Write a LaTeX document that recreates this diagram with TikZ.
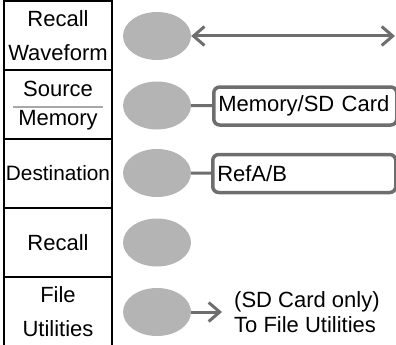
\documentclass[tikz,border=0pt]{standalone}
\usepackage{fontspec}
\setmainfont{Liberation Sans}
\usepackage{tikz}
\usetikzlibrary{arrows.meta,positioning,calc,shapes.geometric}
\definecolor{keyfill}{HTML}{B4B4B4}
\definecolor{linegray}{HTML}{6E6E6E}
\definecolor{rulegray}{HTML}{A8A8A8}
\tikzset{
  menucell/.style={rectangle,draw=black,line width=1.6pt,align=center,
    minimum width=108.5pt,minimum height=69pt,inner sep=0pt,
    font=\fontsize{22}{34}\selectfont},
  menutext/.style={inner sep=0pt,font=\fontsize{22}{34}\selectfont},
  softkey/.style={ellipse,fill=keyfill,minimum width=68pt,minimum height=48pt,inner sep=0pt},
  optbox/.style={rectangle,rounded corners=6pt,draw=linegray,line width=3.5pt,
    minimum width=183pt,minimum height=38pt,text width=174pt,align=left,
    inner xsep=4.5pt,font=\fontsize{22}{24}\selectfont},
  notetext/.style={align=left,inner xsep=12pt,inner ysep=0pt,
    font=\fontsize{22}{25}\selectfont},
  keyline/.style={line width=3pt,color=linegray},
  keyarr/.style={line width=3pt,color=linegray,
    arrows={-Straight Barb[length=11pt,width=19pt]}},
  divider/.style={line width=1.3pt,color=rulegray},
}
\begin{document}
\begin{tikzpicture}[x=1pt,y=-1pt]
  \useasboundingbox (0,0) rectangle (396,345);

  % menu column
  \node[menucell] (cellA) at (58,35.7) {Recall\\Waveform};
  \node[menucell] (cellB) at (58,104.5) {};
  \node[menucell,font=\fontsize{20.8}{34}\selectfont] (cellC) at (58,173.5) {Destination};
  \node[menucell] (cellD) at (58,242.5) {Recall};
  \node[menucell] (cellE) at (58,311.5) {File\\Utilities};
  \node[menutext] (src) at (58,89) {Source};
  \node[menutext] (mem) at (58,120) {Memory};
  \draw[divider] ($(cellB.center)+(-45,2.5)$) -- ($(cellB.center)+(45,2.5)$);

  % soft keys
  \node[softkey] (keyA) at (157,36) {};
  \node[softkey] (keyB) at (157,105.5) {};
  \node[softkey] (keyC) at (157,173) {};
  \node[softkey] (keyD) at (157,242.5) {};
  \node[softkey] (keyE) at (157,312) {};

  % options
  \coordinate (endA) at (395,36);
  \node[optbox,anchor=west] (boxB) at (212,106) {Memory/SD Card};
  \node[optbox,anchor=west] (boxC) at (211,173.5) {RefA/B};
  \node[notetext,anchor=west] (noteE) at (222,312) {(SD Card only)\\To File Utilities};

  \draw[keyarr,arrows={Straight Barb[length=11pt,width=19pt]-Straight Barb[length=11pt,width=19pt]}] (keyA) -- (endA);
  \draw[keyline] (keyB) -- (boxB);
  \draw[keyline] (keyC) -- (boxC);
  \draw[keyarr] (keyE) -- (noteE);
\end{tikzpicture}
\end{document}
